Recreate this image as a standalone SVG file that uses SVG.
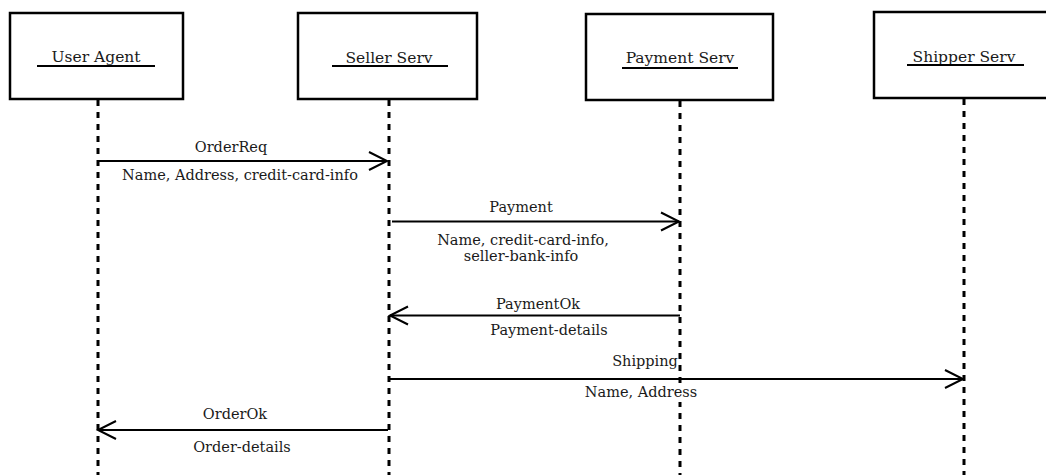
<svg xmlns="http://www.w3.org/2000/svg" width="1046" height="475" viewBox="0 0 1046 475">
  <style>
    .box { fill: #ffffff; stroke: #000000; stroke-width: 2.5; }
    .title { font-family: "DejaVu Serif", "Liberation Serif", serif; font-size: 15.5px; fill: #1a1a1a; text-anchor: middle; }
    .uline { stroke: #000000; stroke-width: 2; }
    .life { stroke: #000000; stroke-width: 3; stroke-dasharray: 6 6; }
    .msg { stroke: #000000; stroke-width: 2; fill: none; marker-end: url(#open); }
    .lbl { font-family: "DejaVu Serif", "Liberation Serif", serif; font-size: 14.5px; fill: #1a1a1a; text-anchor: middle; }
    .lblbg { fill: #ffffff; }
  </style>
  <defs>
    <marker id="open" markerUnits="userSpaceOnUse" markerWidth="24" markerHeight="24" viewBox="-21 -12 24 24" refX="0" refY="0" orient="auto">
      <path d="M-18,-9 L0,0 L-18,9" fill="none" stroke="#000000" stroke-width="2"/>
    </marker>
  </defs>
  <rect width="1046" height="475" fill="#ffffff"/>

  <!-- lifelines -->
  <g id="lifelines">
    <line class="life" x1="98" y1="100" x2="98" y2="475"/>
    <line class="life" x1="389" y1="100" x2="389" y2="475"/>
    <line class="life" x1="680" y1="101" x2="680" y2="475"/>
    <line class="life" x1="964" y1="99" x2="964" y2="475"/>
  </g>

  <!-- participants -->
  <g id="user-agent">
    <rect class="box" x="10" y="13" width="173" height="86"/>
    <text class="title" x="96" y="62">User Agent</text>
    <line class="uline" x1="37" y1="66" x2="155" y2="66"/>
  </g>
  <g id="seller-serv">
    <rect class="box" x="298" y="13" width="179" height="86"/>
    <text class="title" x="389" y="63">Seller Serv</text>
    <line class="uline" x1="332" y1="66" x2="448" y2="66"/>
  </g>
  <g id="payment-serv">
    <rect class="box" x="586" y="14" width="187" height="86"/>
    <text class="title" x="680" y="63">Payment Serv</text>
    <line class="uline" x1="622" y1="68" x2="738" y2="68"/>
  </g>
  <g id="shipper-serv">
    <rect class="box" x="874" y="12" width="185" height="86"/>
    <text class="title" x="964" y="62">Shipper Serv</text>
    <line class="uline" x1="907" y1="65" x2="1024" y2="65"/>
  </g>

  <!-- messages -->
  <g id="connectors">
    <line class="msg" x1="98" y1="161" x2="387" y2="161"/>
    <line class="msg" x1="392" y1="221.5" x2="679" y2="221.5"/>
    <line class="msg" x1="680" y1="315.5" x2="390" y2="315.5"/>
    <line class="msg" x1="389" y1="379" x2="963" y2="379"/>
    <line class="msg" x1="388" y1="430" x2="98" y2="430"/>
  </g>

  <g id="labels">
    <text class="lbl" x="231" y="152">OrderReq</text>
    <text class="lbl" x="240" y="180">Name, Address, credit-card-info</text>
    <text class="lbl" x="521" y="212">Payment</text>
    <text class="lbl" x="523" y="245">Name, credit-card-info,</text>
    <text class="lbl" x="521" y="261">seller-bank-info</text>
    <text class="lbl" x="538" y="309">PaymentOk</text>
    <text class="lbl" x="549" y="335">Payment-details</text>
    <text class="lbl" x="645" y="366">Shipping</text>
    <rect class="lblbg" x="594" y="383" width="96" height="19"/>
    <text class="lbl" x="641" y="397">Name, Address</text>
    <text class="lbl" x="235" y="419">OrderOk</text>
    <text class="lbl" x="242" y="452">Order-details</text>
  </g>
</svg>
